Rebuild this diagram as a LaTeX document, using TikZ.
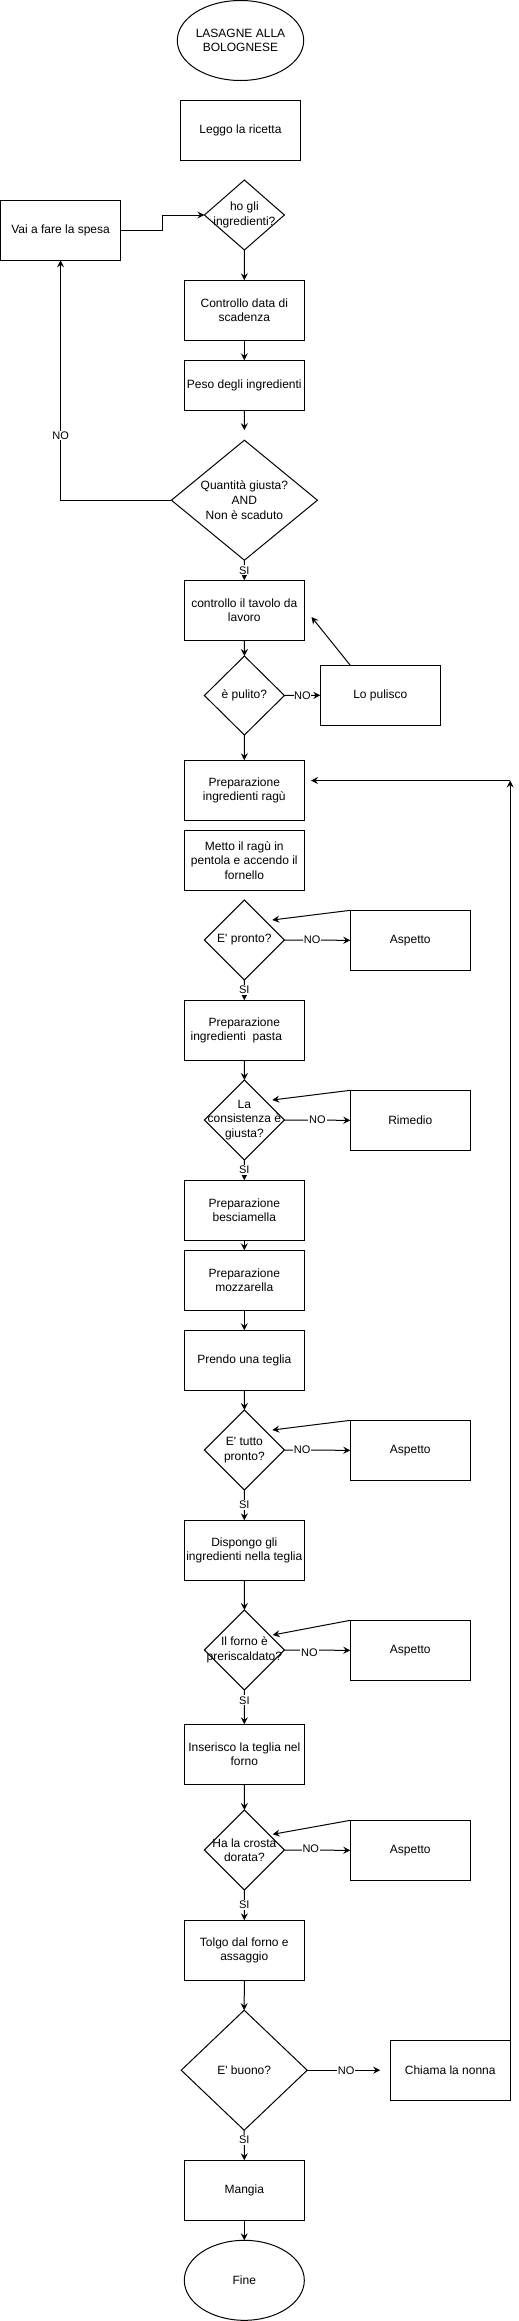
\documentclass[tikz,border=0pt]{standalone}
\usepackage{fontspec}
\setmainfont{Liberation Sans}[Ligatures=TeXOff]
\usetikzlibrary{shapes.geometric,arrows.meta,calc}
\begin{document}
\begin{tikzpicture}[x=1pt,y=-1pt,
  font=\fontsize{12}{14.6}\selectfont,
  line width=1pt,
  >={Stealth[length=7pt,width=7pt,inset=2.5pt]},
  box/.style={draw, rectangle, minimum width=120pt, minimum height=60pt, inner sep=0pt, outer sep=0pt, align=center},
  oval/.style={draw, ellipse, minimum width=120pt, minimum height=80pt, inner sep=0pt, outer sep=0pt, align=center},
  dia/.style={draw, diamond, inner sep=0pt, outer sep=0pt},
  dtext/.style={align=center, inner sep=0pt},
  lbl/.style={font=\fontsize{11}{13}\selectfont, fill=white, inner sep=1pt},
  flow/.style={->}
]
\useasboundingbox (0,0) rectangle (519,2321);

% start
\node[oval] (start) at (240.5,40.5) {LASAGNE ALLA\\BOLOGNESE};
\node[box] (leggo) at (240.5,130.3) {Leggo la ricetta};

\node[dia, minimum width=80pt, minimum height=70pt] (hogli) at (244.4,215) {};
\node[dtext] (hogliT) at (hogli) {ho gli\\ingredienti?};
\node[box] (vai) at (60.6,230.3) {Vai a fare la spesa};

\node[box] (contr) at (244.3,310.3) {Controllo data di\\scadenza};
\node[box, minimum height=50pt] (peso) at (244.3,385.3) {Peso degli ingredienti};

\node[dia, minimum width=146pt, minimum height=120pt] (quant) at (244.4,500.2) {};
\node[dtext] (quantT) at (quant) {Quantità giusta?\\AND\\Non è scaduto};

\node[box] (tavolo) at (244.3,610.3) {controllo il tavolo da\\lavoro};
\node[dia, minimum width=80pt, minimum height=79pt] (pulito) at (244.4,695.5) {};
\node[dtext] (pulitoT) at (pulito) {è pulito?};
\node[box] (pulisco) at (380.3,695.3) {Lo pulisco};

\node[box] (ragu) at (244.3,790.3) {Preparazione\\ingredienti ragù};
\node[box] (metto) at (244.3,860.3) {Metto il ragù in\\pentola e accendo il\\fornello};

\node[dia, minimum width=80pt, minimum height=80pt] (pronto) at (244.4,940) {};
\node[dtext] (prontoT) at (pronto) {E' pronto?};
\node[box] (asp1) at (410.3,940.3) {Aspetto};

\node[box] (pasta) at (244.3,1030.3) {Preparazione\\ingredienti\ \ pasta\makebox[16pt]{}};
\node[dia, minimum width=80pt, minimum height=80pt] (consist) at (244.4,1120) {};
\node[dtext] (consistT) at (consist) {La\\consistenza è\\giusta?};
\node[box] (rimedio) at (410.3,1120.3) {Rimedio};

\node[box] (besc) at (244.3,1210.3) {Preparazione\\besciamella};
\node[box] (mozz) at (244.3,1280.3) {Preparazione\\mozzarella};
\node[box] (prendo) at (244.3,1360.3) {Prendo una teglia};

\node[dia, minimum width=80pt, minimum height=80pt] (tutto) at (244.4,1450) {};
\node[dtext] (tuttoT) at (tutto) {E' tutto\\pronto?};
\node[box] (asp2) at (410.3,1450.3) {Aspetto};

\node[box] (disp) at (244.3,1550.3) {Dispongo gli\\ingredienti nella teglia};
\node[dia, minimum width=80pt, minimum height=80pt] (forno) at (244.4,1650) {};
\node[dtext] (fornoT) at (forno) {Il forno è\\preriscaldato?};
\node[box] (asp3) at (410.3,1650.3) {Aspetto};

\node[box] (inser) at (244.3,1754.3) {Inserisco la teglia nel\\forno};
\node[dia, minimum width=80pt, minimum height=80pt] (crosta) at (244.4,1850) {};
\node[dtext] (crostaT) at (crosta) {Ha la crosta\\dorata?};
\node[box] (asp4) at (410.3,1850.3) {Aspetto};

\node[box] (tolgo) at (244.3,1950.3) {Tolgo dal forno e\\assaggio};
\node[dia, minimum width=126pt, minimum height=120pt] (buono) at (244.2,2070.2) {};
\node[dtext] (buonoT) at (buono) {E' buono?};
\node[box] (chiama) at (450.2,2070.2) {Chiama la nonna};

\node[box] (mangia) at (244.3,2190.3) {Mangia};
\node[oval] (fine) at (244.3,2280.3) {Fine};

% coordinates for free ends
\coordinate (tavR) at (311.5,617);
\coordinate (r1) at (272.3,920);
\coordinate (r2) at (272.3,1100);
\coordinate (r3) at (272.3,1430);
\coordinate (r4) at (272.7,1635);
\coordinate (r5) at (272.7,1834.3);
\coordinate (loopT) at (510.2,780.5);
\coordinate (ragIn) at (311,780.5);

% connectors
\draw[flow] (vai.east) -- ++(42,0) |- (hogli.west);
\draw[flow] (hogli.south) -- (contr.north);
\draw[flow] (contr.south) -- (peso.north);
\draw[flow, shorten >=10pt] (peso.south) -- (quant.north);
\draw[flow] (quant.west) -| node[lbl, pos=0.635] {NO} (vai.south);
\draw[flow] (quant.south) -- node[lbl] {SI} (tavolo.north);
\draw[flow] (tavolo.south) -- (pulito.north);
\draw[flow] (pulito.east) -- node[lbl, inner sep=0.5pt] {NO} (pulisco.west);
\draw[flow] ($(pulisco.north west)+(30,0)$) -- (tavR);
\draw[flow] (pulito.south) -- (ragu.north);
\draw[flow] (chiama.north east) -- (loopT);
\draw[flow] (loopT) -- (ragIn);

\draw[flow] (pronto.east) -- node[lbl, pos=0.42] {NO} (asp1.west);
\draw[flow] (asp1.north west) -- (r1);
\draw[flow] (pronto.south) -- node[lbl] {SI} (pasta.north);
\draw[flow] (pasta.south) -- (consist.north);
\draw[flow] (consist.east) -- node[lbl] {NO} (rimedio.west);
\draw[flow] (rimedio.north west) -- (r2);
\draw[flow] (consist.south) -- node[lbl] {SI} (besc.north);
\draw[flow] (besc.south) -- (mozz.north);
\draw[flow] (mozz.south) -- (prendo.north);
\draw[flow] (prendo.south) -- (tutto.north);
\draw[flow] (tutto.east) -- node[lbl, pos=0.27] {NO} (asp2.west);
\draw[flow] (asp2.north west) -- (r3);
\draw[flow] (tutto.south) -- node[lbl] {SI} (disp.north);
\draw[flow] (disp.south) -- (forno.north);
\draw[flow] (forno.east) -- node[lbl, pos=0.38, yshift=-3pt] {NO} (asp3.west);
\draw[flow] (asp3.north west) -- (r4);
\draw[flow] (forno.south) -- node[lbl, pos=0.3] {SI} (inser.north);
\draw[flow] (inser.south) -- (crosta.north);
\draw[flow] (crosta.east) -- node[lbl, pos=0.4, yshift=1pt] {NO} (asp4.west);
\draw[flow] (asp4.north west) -- (r5);
\draw[flow] (crosta.south) -- node[lbl] {SI} (tolgo.north);
\draw[flow] (tolgo.south) -- (buono.north);
\draw[flow, shorten >=10pt] (buono.east) -- node[lbl, pos=0.47] {NO} (chiama.west);
\draw[flow] (buono.south) -- node[lbl, pos=0.33] {SI} (mangia.north);
\draw[flow] (mangia.south) -- (fine.north);
\end{tikzpicture}
\end{document}
